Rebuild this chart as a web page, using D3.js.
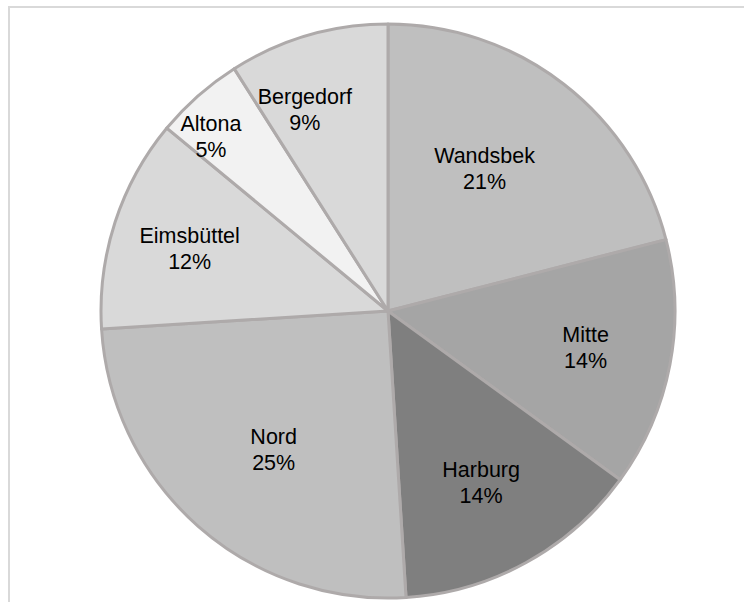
<!DOCTYPE html>
<html>
<head>
<meta charset="utf-8">
<script src="https://cdn.jsdelivr.net/npm/d3@7"></script>
<style>
  html, body { margin: 0; padding: 0; background: #fff; }
  svg { display: block; }
</style>
</head>
<body>
<svg id="chart" width="744" height="602"></svg>
<script>
// Share of each Hamburg district (percent), clockwise from 12 o'clock
const districts = ["Wandsbek", "Mitte", "Harburg", "Nord", "Eimsbüttel", "Altona", "Bergedorf"];
const shares = [21, 14, 14, 25, 12, 5, 9];
const fills = ["#bfbfbf", "#a5a5a5", "#7f7f7f", "#bfbfbf", "#d9d9d9", "#f2f2f2", "#d9d9d9"];

// Label placement: fraction of radius and angular nudge (degrees) from slice middle
const labelRadius = [0.60, 0.70, 0.68, 0.625, 0.725, 0.865, 0.76];
const labelNudge = [-3.7, -0.4, 0.3, -1.8, -0.4, -4.1, -6.2];

const W = 744, H = 602;
const cx = 388, cy = 311, R = 287;

const svg = d3.select("#chart");

// outer chart frame (runs past the right and bottom edges)
svg.append("rect")
  .attr("x", 9).attr("y", 7)
  .attr("width", 900).attr("height", 900)
  .attr("fill", "none")
  .attr("stroke", "#d9d9d9")
  .attr("stroke-width", 2);

const data = districts.map((name, i) => ({ name, value: shares[i], fill: fills[i], i }));

const pie = d3.pie().value(d => d.value).sort(null);
const arcs = pie(data);

const arc = d3.arc().innerRadius(0).outerRadius(R);

const g = svg.append("g").attr("transform", `translate(${cx},${cy})`);

g.selectAll("path.slice")
  .data(arcs)
  .join("path")
  .attr("class", "slice")
  .attr("d", arc)
  .attr("fill", d => d.data.fill)
  .attr("stroke", "#aeaaaa")
  .attr("stroke-width", 3)
  .attr("stroke-linejoin", "round");

const total = d3.sum(shares);

const labels = g.selectAll("g.label")
  .data(arcs)
  .join("g")
  .attr("class", "label")
  .attr("transform", d => {
    const mid = (d.startAngle + d.endAngle) / 2 + labelNudge[d.data.i] * Math.PI / 180;
    const r = R * labelRadius[d.data.i];
    return `translate(${r * Math.sin(mid)},${-r * Math.cos(mid)})`;
  });

labels.append("text")
  .attr("y", -5.5)
  .attr("text-anchor", "middle")
  .attr("font-family", "Liberation Sans, Arial, sans-serif")
  .attr("font-size", 21.5)
  .attr("fill", "#000")
  .text(d => d.data.name);

labels.append("text")
  .attr("y", 20.5)
  .attr("text-anchor", "middle")
  .attr("font-family", "Liberation Sans, Arial, sans-serif")
  .attr("font-size", 21.5)
  .attr("fill", "#000")
  .text(d => Math.round(d.data.value / total * 100) + "%");
</script>
</body>
</html>
